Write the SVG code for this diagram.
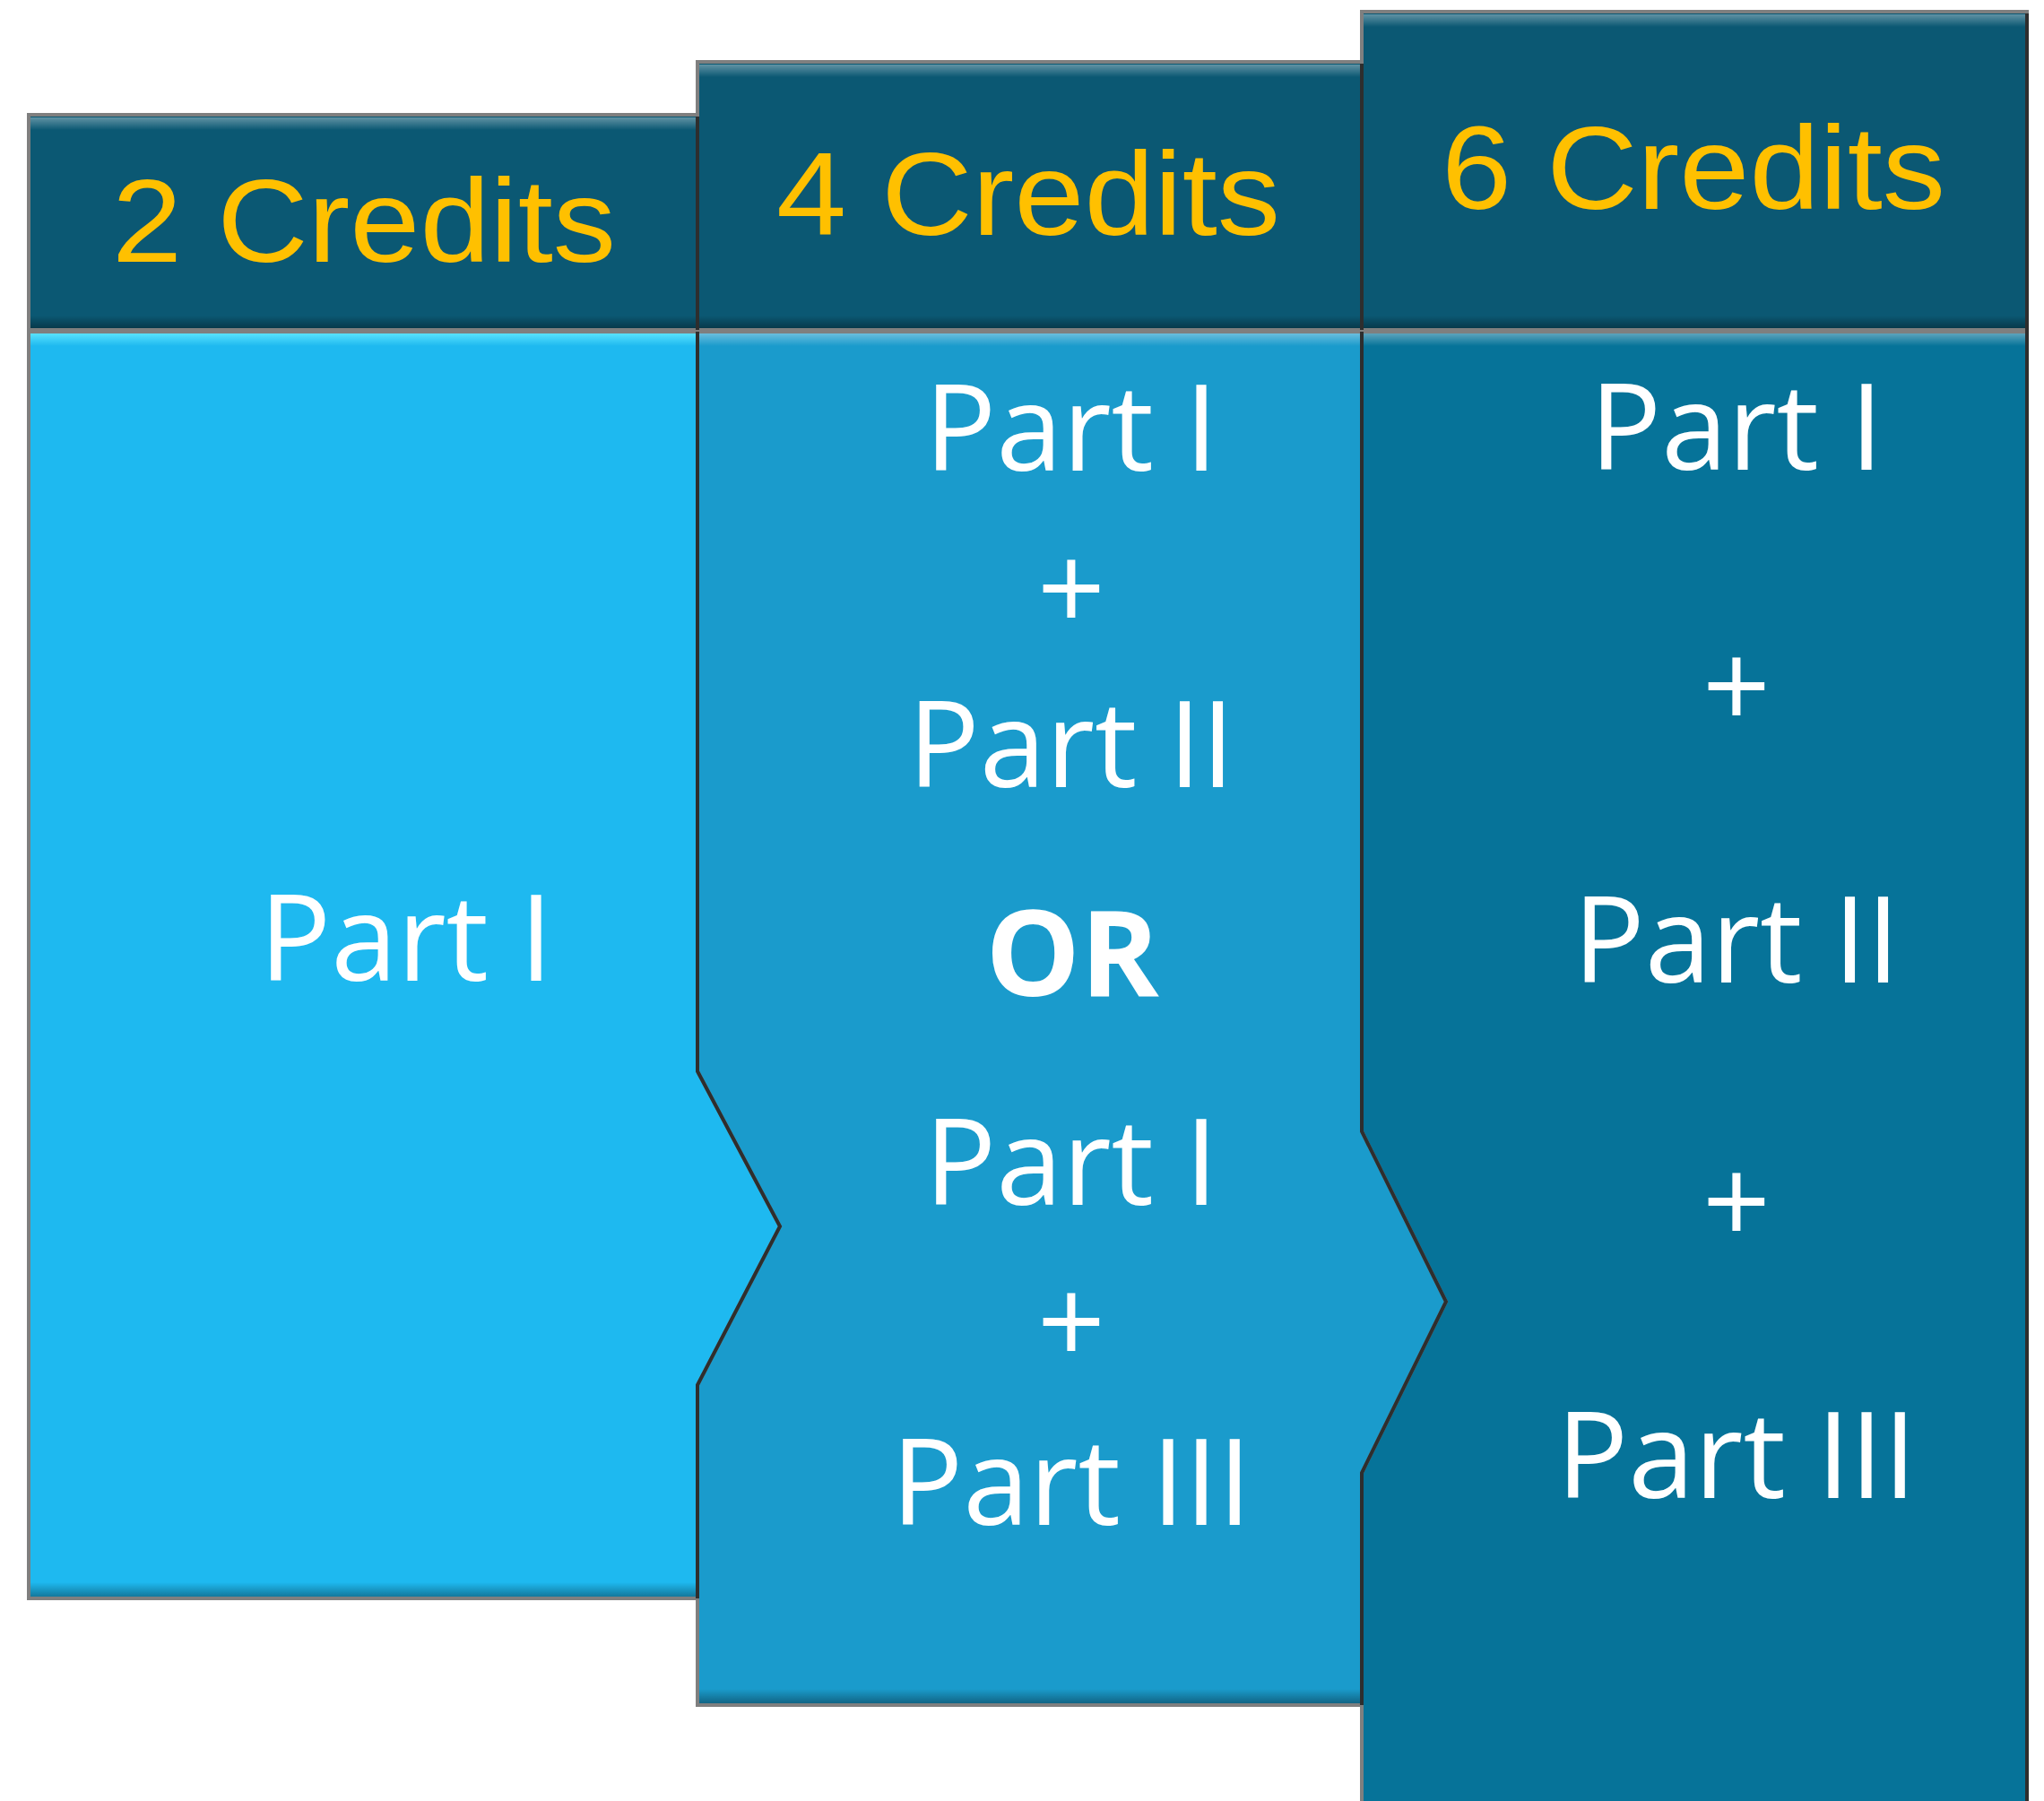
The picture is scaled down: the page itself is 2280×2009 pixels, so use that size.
<svg xmlns="http://www.w3.org/2000/svg" width="2280" height="2009" viewBox="0 0 2280 2009">
<style>
.hdr{fill:#0B5873;stroke:#7f7f7f;stroke-width:4}
.b1{fill:#1EB9F0;stroke:#7f7f7f;stroke-width:4}
.b2{fill:#1A9BCC;stroke:#7f7f7f;stroke-width:4}
.b3{fill:#067399;stroke:#7f7f7f;stroke-width:4}
.edge{fill:none;stroke:#2e2e2e;stroke-width:4;stroke-linejoin:miter}
.ht{font-family:"Liberation Sans",Arial,sans-serif;font-size:132px;fill:#FFC000;text-anchor:middle}
.bt{font-family:"Open Sans","Noto Sans",sans-serif;font-size:133px;fill:#FFFFFF;text-anchor:middle}
.or{font-weight:bold}
</style>
<defs>
<linearGradient id="topHi" x1="0" y1="0" x2="0" y2="1">
<stop offset="0" stop-color="#ffffff" stop-opacity="0.35"/>
<stop offset="1" stop-color="#ffffff" stop-opacity="0"/>
</linearGradient>
<linearGradient id="botSh" x1="0" y1="0" x2="0" y2="1">
<stop offset="0" stop-color="#000000" stop-opacity="0"/>
<stop offset="1" stop-color="#000000" stop-opacity="0.35"/>
</linearGradient>
<linearGradient id="topCyan" x1="0" y1="0" x2="0" y2="1">
<stop offset="0" stop-color="#5fe6ff" stop-opacity="0.9"/>
<stop offset="1" stop-color="#5fe6ff" stop-opacity="0"/>
</linearGradient>
</defs>

<!-- Column 3 (6 credits) -->
<g id="col3">
<path class="b3" d="M1519,370 H2261 V2015 H1519 Z"/>
<rect x="1521" y="372" width="738" height="14" fill="url(#topHi)"/>
<rect class="hdr" x="1519" y="13" width="742" height="355"/>
<rect x="1521" y="16" width="738" height="14" fill="url(#topHi)"/>
<rect x="1521" y="352" width="738" height="14" fill="url(#botSh)"/>
<line class="edge" x1="2261" y1="15" x2="2261" y2="2015"/>
<text class="ht" x="1889" y="233" textLength="562" lengthAdjust="spacingAndGlyphs">6 Credits</text>
<text class="bt" x="1937" y="524">Part I</text>
<text class="bt" x="1937" y="813">+</text>
<text class="bt" x="1937" y="1096">Part II</text>
<text class="bt" x="1937" y="1388">+</text>
<text class="bt" x="1937" y="1671">Part III</text>
</g>

<!-- Column 2 (4 credits) -->
<g id="col2">
<path class="b2" d="M778,370 H1519 V1262 L1613,1452 L1519,1643 V1902 H778 Z"/>
<rect x="780" y="372" width="737" height="14" fill="url(#topHi)"/>
<rect x="780" y="1884" width="737" height="16" fill="url(#botSh)"/>
<path class="edge" d="M1519,370 V1262 L1613,1452 L1519,1643 V1902"/>
<rect class="hdr" x="778" y="69" width="741" height="299"/>
<rect x="780" y="72" width="737" height="14" fill="url(#topHi)"/>
<rect x="780" y="352" width="737" height="14" fill="url(#botSh)"/>
<line class="edge" x1="1519" y1="71" x2="1519" y2="368"/>
<text class="ht" x="1147" y="262" textLength="562" lengthAdjust="spacingAndGlyphs">4 Credits</text>
<text class="bt" x="1195" y="525">Part I</text>
<text class="bt" x="1195" y="704">+</text>
<text class="bt" x="1195" y="878">Part II</text>
<text class="bt or" x="1196" y="1111">OR</text>
<text class="bt" x="1195" y="1344">Part I</text>
<text class="bt" x="1195" y="1522">+</text>
<text class="bt" x="1195" y="1701">Part III</text>
</g>

<!-- Column 1 (2 credits) -->
<g id="col1">
<path class="b1" d="M32,370 H778 V1195 L870,1368 L778,1545 V1783 H32 Z"/>
<rect x="34" y="372" width="742" height="14" fill="url(#topCyan)"/>
<rect x="34" y="1765" width="742" height="16" fill="url(#botSh)"/>
<path class="edge" d="M778,370 V1195 L870,1368 L778,1545 V1783"/>
<rect class="hdr" x="32" y="128" width="746" height="240"/>
<rect x="34" y="131" width="742" height="14" fill="url(#topHi)"/>
<rect x="34" y="352" width="742" height="14" fill="url(#botSh)"/>
<line class="edge" x1="778" y1="130" x2="778" y2="368"/>
<text class="ht" x="406" y="292" textLength="562" lengthAdjust="spacingAndGlyphs">2 Credits</text>
<text class="bt" x="453" y="1094">Part I</text>
</g>

<g id="connectors"></g>
</svg>
